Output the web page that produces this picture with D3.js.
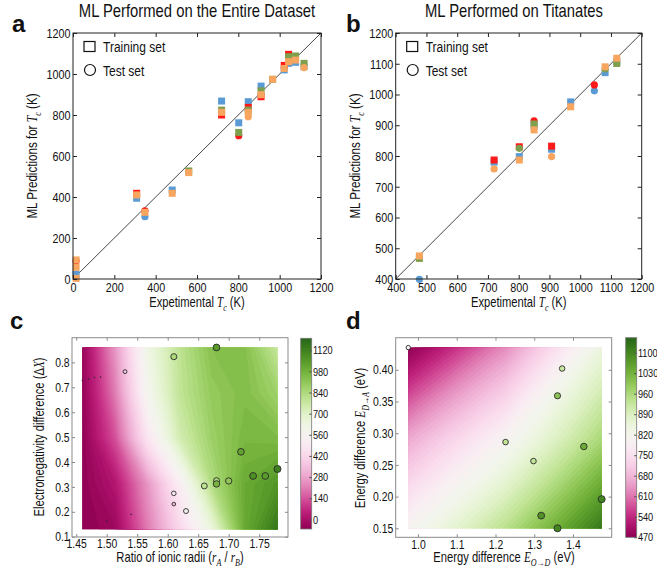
<!DOCTYPE html>
<html>
<head>
<meta charset="utf-8">
<script src="https://cdn.jsdelivr.net/npm/d3@7"></script>
<style>
body { margin: 0; background: #fff; }
text { font-family: "Liberation Sans", Arial, sans-serif; fill: #111; }
.letter { font-weight: bold; font-size: 24px; }
.math { font-family: "Liberation Serif", "DejaVu Serif", serif; font-style: italic; }
</style>
</head>
<body>
<svg id="fig" width="657" height="571"></svg>
<script>
// ---------- panel a : ML on the entire dataset  [Tc exp, Tc predicted, marker]
var aBlue = [[15,23,"s"],[308,394,"s"],[348,304,"c"],[480,434,"s"],[719,868,"s"],[802,762,"s"],[848,865,"s"],
             [910,941,"s"],[1022,1020,"s"],[1043,1052,"s"],[1077,1057,"s"],[1118,1036,"s"]];
var aRed = [[15,88,"c"],[308,418,"s"],[348,333,"c"],[719,800,"s"],[802,699,"c"],[848,837,"s"],[910,889,"s"],
            [1022,1042,"s"],[1043,1096,"s"]];
var aGreen = [[560,527,"s"],[719,824,"s"],[802,715,"s"],[848,824,"s"],[910,918,"s"],[966,974,"s"],
              [1043,1084,"s"],[1077,1088,"s"],[1118,1052,"s"]];
var aOrange = [[15,93,"s"],[15,57,"s"],[15,3,"s"],[308,410,"s"],[348,325,"s"],[480,418,"s"],[560,519,"s"],
               [719,813,"s"],[848,813,"s"],[848,792,"c"],[910,899,"s"],[966,974,"s"],[1022,1027,"s"],
               [1043,1060,"s"],[1077,1068,"s"],[1118,1031,"c"]];
var aTicks = [0,200,400,600,800,1000,1200];

// ---------- panel b : ML on titanates
var bBlue = [[477,399,"c"],[720,780,"s"],[802,798,"s"],[850,898,"s"],[907,822,"s"],[969,976,"s"],
             [1046,1012,"c"],[1081,1071,"s"],[1119,1107,"s"]];
var bRed = [[720,787,"s"],[802,830,"s"],[850,914,"c"],[907,832,"s"],[1046,1031,"c"]];
var bGreen = [[477,467,"s"],[802,825,"c"],[850,904,"s"],[1081,1083,"c"],[1119,1101,"s"]];
var bOrange = [[477,475,"s"],[720,758,"c"],[802,787,"s"],[850,885,"s"],[907,798,"c"],[969,960,"s"],
               [1081,1090,"s"],[1119,1118,"s"]];
var bTicks = [400,500,600,700,800,900,1000,1100,1200];

// ---------- panel c : Tc map over (rA/rB, dX), grid rows top -> bottom
var cGridX = [1.46, 1.78];
var cGridY = [0.86, 0.13];
var cGrid = [
  [-40, 250, 620, 800, 930, 930, 780],
  [-50, 200, 580, 790, 900, 940, 870],
  [-60, 130, 470, 740, 880, 960, 950],
  [-60,  20, 250, 520, 830, 1000, 1060],
  [-64, -30, 200, 420, 650, 1000, 1150]
];
// [rA/rB, dX, Tc]
var cPoints = [[1.68,0.86,1043],[1.61,0.823,848],[1.53,0.763,348],
  [1.46,0.727,15],[1.47,0.733,15],[1.48,0.74,15],[1.49,0.741,15],
  [1.72,0.441,1022],[1.78,0.372,1118],[1.74,0.344,1077],[1.76,0.344,1043],
  [1.70,0.324,910],[1.68,0.325,848],[1.68,0.312,966],[1.66,0.304,802],
  [1.61,0.274,480],[1.61,0.231,308],[1.63,0.203,560],[1.54,0.19,15],[1.50,0.163,15]];
var cXTicks = [1.45,1.50,1.55,1.60,1.65,1.70,1.75];
var cYTicks = [0.1,0.2,0.3,0.4,0.5,0.6,0.7,0.8];
var cBarTicks = [0,140,280,420,560,700,840,980,1120];
var cBarRange = [-64, 1199];

// ---------- panel d : Tc map over (E O->D, E D->A)
var dGridX = [0.975, 1.474];
var dGridY = [0.435, 0.15];
var dGrid = [
  [470, 630, 850],
  [660, 800, 960],
  [805, 940, 1120]
];
var dPoints = [[0.975,0.435,780],[1.372,0.402,920],[1.36,0.359,1000],[1.226,0.286,930],[1.298,0.256,930],
  [1.428,0.279,1040],[1.474,0.196,1100],[1.318,0.170,1080],[1.36,0.15,1100]];
var dXTicks = [1.0,1.1,1.2,1.3,1.4];
var dYTicks = [0.15,0.20,0.25,0.30,0.35,0.40];
var dBarTicks = [470,540,610,680,750,820,890,960,1030,1100];
var dBarRange = [470, 1151];

var colBlue = "#5b9bd5", colRed = "#ff1a1a", colGreen = "#7d9f4e", colOrange = "#f7a55f";
var NARROW = "scale(0.8,1)";   // stands in for Arial Narrow

var svg = d3.select("#fig");

// text with italic / subscript pieces: [text, italic, sub]
function rich(sel, parts, fs) {
  sel.style("font-size", fs + "px");
  var shift = 0;
  parts.forEach(function (p) {
    var t = sel.append("tspan").text(p[0]);
    if (p[1]) t.attr("class", "math");
    var want = p[2] ? fs * 0.3 : 0;
    if (want !== shift) { t.attr("dy", want - shift); shift = want; }
    if (p[2]) t.style("font-size", (fs * 0.72) + "px");
  });
  return sel;
}

function label(x, y, rot, anchor, fs, parts) {
  var g = svg.append("g").attr("transform", "translate(" + x + "," + y + ")" + (rot ? " rotate(-90)" : ""));
  return rich(g.append("text").attr("text-anchor", anchor).attr("transform", NARROW), parts, fs);
}

function styleAxis(a, col, fs) {
  a.select(".domain").remove();
  a.selectAll("line").attr("stroke", col);
  a.selectAll("text").style("font-size", fs + "px").attr("fill", "#111").attr("transform", NARROW);
}

function frameAxes(x, y, xt, yt, fx, fy, col, tl, fs, pad) {
  var g = svg.append("g");
  var x0 = x.range()[0], x1 = x.range()[1], y0 = y.range()[0], y1 = y.range()[1];
  g.append("rect").attr("x", x0).attr("y", y1).attr("width", x1 - x0).attr("height", y0 - y1)
    .attr("fill", "none").attr("stroke", col).attr("stroke-width", 1);
  [
    g.append("g").attr("transform", "translate(0," + y0 + ")")
      .call(d3.axisBottom(x).tickValues(xt).tickFormat(fx).tickSizeInner(-tl).tickSizeOuter(0).tickPadding(pad)),
    g.append("g").attr("transform", "translate(" + x0 + ",0)")
      .call(d3.axisLeft(y).tickValues(yt).tickFormat(fy).tickSizeInner(-tl).tickSizeOuter(0).tickPadding(3)),
    g.append("g").attr("transform", "translate(0," + y1 + ")")
      .call(d3.axisTop(x).tickValues(xt).tickFormat("").tickSizeInner(-tl).tickSizeOuter(0)),
    g.append("g").attr("transform", "translate(" + x1 + ",0)")
      .call(d3.axisRight(y).tickValues(yt).tickFormat("").tickSizeInner(-tl).tickSizeOuter(0))
  ].forEach(function (a) { styleAxis(a, col, fs); });
  return g;
}

function scatterPanel(series, x, y, ticks) {
  var g = svg.append("g");
  var d0 = x.domain()[0], d1 = x.domain()[1];
  g.append("line").attr("x1", x(d0)).attr("y1", y(d0)).attr("x2", x(d1)).attr("y2", y(d1))
    .attr("stroke", "#333").attr("stroke-width", 0.9);
  series.forEach(function (s) {
    s.data.forEach(function (d) {
      if (d[2] === "s") {
        g.append("rect").attr("x", x(d[0]) - 3.5).attr("y", y(d[1]) - 3.5)
          .attr("width", 7).attr("height", 7).attr("fill", s.col);
      } else {
        g.append("circle").attr("cx", x(d[0])).attr("cy", y(d[1])).attr("r", 3.6).attr("fill", s.col);
      }
    });
  });
  frameAxes(x, y, ticks, ticks, d3.format("d"), d3.format("d"), "#222", 4, 13.5, 3);
  // legend
  var lx = x.range()[0];
  g.append("rect").attr("x", lx + 11).attr("y", 41.5).attr("width", 11).attr("height", 10)
    .attr("fill", "none").attr("stroke", "#111").attr("stroke-width", 1.2);
  label(lx + 30, 52, false, "start", 15, [["Training set"]]);
  g.append("circle").attr("cx", lx + 17).attr("cy", 70).attr("r", 5.5)
    .attr("fill", "none").attr("stroke", "#111").attr("stroke-width", 1.2);
  label(lx + 30, 76, false, "start", 15, [["Test set"]]);
  // axis titles
  var cx = (x.range()[0] + x.range()[1]) / 2, cy = (y.range()[0] + y.range()[1]) / 2;
  label(cx, 307, false, "middle", 14, [["Expetimental "], ["T", true], ["c", true, true], [" (K)"]]);
  label(x.range()[0] - 36, cy, true, "middle", 14.5, [["ML Predictions for "], ["T", true], ["c", true, true], [" (K)"]]);
}

function mapPanel(grid, gx, gy, pts, x, y, xt, yt, fx, fy, bar, barTicks, barX, barY, rad, id) {
  var color = d3.scaleSequential(d3.interpolatePiYG).domain(bar);
  var g = svg.append("g");
  var nx = grid[0].length, ny = grid.length;
  var values = [].concat.apply([], grid);
  var px0 = x(gx[0]), px1 = x(gx[1]), py0 = y(gy[0]), py1 = y(gy[1]);
  var step = (bar[1] - bar[0]) / 70;
  var levels = d3.range(bar[0] - step, bar[1] + step, step);
  var conts = d3.contours().size([nx, ny]).thresholds(levels)(values);
  var proj = d3.geoTransform({
    point: function (u, v) {
      this.stream.point(px0 + (u - 0.5) / (nx - 1) * (px1 - px0), py0 + (v - 0.5) / (ny - 1) * (py1 - py0));
    }
  });
  g.append("clipPath").attr("id", id).append("rect")
    .attr("x", px0).attr("y", py0).attr("width", px1 - px0).attr("height", py1 - py0);
  g.append("g").attr("clip-path", "url(#" + id + ")")
    .selectAll("path").data(conts).join("path")
    .attr("d", d3.geoPath(proj))
    .attr("fill", function (d) { return color(d.value + step / 2); })
    .attr("stroke", function (d) { return color(d.value + step / 2); })
    .attr("stroke-width", 0.6);
  g.selectAll("circle.pt").data(pts).join("circle")
    .attr("cx", function (d) { return x(d[0]); })
    .attr("cy", function (d) { return y(d[1]); })
    .attr("r", function (d) { return rad(d[2]); })
    .attr("fill", function (d) { return color(d[2]); })
    .attr("stroke", "#2a2a2a").attr("stroke-width", 0.9);
  frameAxes(x, y, xt, yt, fx, fy, "#8a8a8a", 3, 13, 2);

  // colour bar
  var by = d3.scaleLinear().domain(bar).range(barY);
  var gid = id + "g";
  var grad = svg.append("defs").append("linearGradient").attr("id", gid)
    .attr("x1", 0).attr("y1", 1).attr("x2", 0).attr("y2", 0);
  d3.range(0, 1.0001, 0.05).forEach(function (t) {
    grad.append("stop").attr("offset", t).attr("stop-color", d3.interpolatePiYG(t));
  });
  var bw = 11;
  svg.append("rect").attr("x", barX).attr("y", barY[1]).attr("width", bw)
    .attr("height", barY[0] - barY[1]).attr("fill", "url(#" + gid + ")")
    .attr("stroke", "#777").attr("stroke-width", 0.8);
  var ba = svg.append("g").attr("transform", "translate(" + (barX + bw) + ",0)")
    .call(d3.axisRight(by).tickValues(barTicks).tickFormat(d3.format("d")).tickSizeInner(-2.5).tickSizeOuter(0).tickPadding(1.5));
  styleAxis(ba, "#555", 11.5);
}

// ---- a
var xa = d3.scaleLinear().domain([0, 1200]).range([73, 321]);
var ya = d3.scaleLinear().domain([0, 1200]).range([279, 33]);
scatterPanel([{data: aBlue, col: colBlue}, {data: aRed, col: colRed}, {data: aGreen, col: colGreen},
  {data: aOrange, col: colOrange}], xa, ya, aTicks);

// ---- b
var xb = d3.scaleLinear().domain([400, 1200]).range([395.7, 641.7]);
var yb = d3.scaleLinear().domain([400, 1200]).range([279, 33]);
scatterPanel([{data: bBlue, col: colBlue}, {data: bRed, col: colRed}, {data: bGreen, col: colGreen},
  {data: bOrange, col: colOrange}], xb, yb, bTicks);

// ---- c
var xc = d3.scaleLinear().domain([1.4431, 1.7972]).range([72, 288]);
var yc = d3.scaleLinear().domain([0.0988, 0.8992]).range([537, 337.7]);
mapPanel(cGrid, cGridX, cGridY, cPoints, xc, yc, cXTicks, cYTicks, d3.format(".2f"), d3.format(".1f"),
  cBarRange, cBarTicks, 300.7, [529, 338.3], d3.scaleSqrt().domain([0, 1120]).range([0, 3.5]), "clipc");
label(180, 562, false, "middle", 14,
  [["Ratio of ionic radii ("], ["r", true], ["A", true, true], [" / "], ["r", true], ["B", true, true], [")"]]);
label(44, 437, true, "middle", 14, [["Electronegativity difference ("], ["Δ"], ["X", true], [")"]]);

// ---- d
var xd = d3.scaleLinear().domain([0.9425, 1.4999]).range([395.7, 611.7]);
var yd = d3.scaleLinear().domain([0.1358, 0.4506]).range([537.3, 337.7]);
mapPanel(dGrid, dGridX, dGridY, dPoints, xd, yd, dXTicks, dYTicks, d3.format(".1f"), d3.format(".2f"),
  dBarRange, dBarTicks, 625.7, [537.3, 337.7], d3.scaleLinear().domain([780, 1100]).range([2.2, 3.5]), "clipd");
label(504, 562, false, "middle", 14, [["Energy difference "], ["E", true], ["O→D", true, true], [" (eV)"]]);
label(365, 438, true, "middle", 14, [["Energy difference "], ["E", true], ["D→A", true, true], [" (eV)"]]);

// ---- titles and letters
label(197, 17, false, "middle", 18.5, [["ML Performed on the Entire Dataset"]]);
label(514, 17, false, "middle", 18.5, [["ML Performed on Titanates"]]);
[["a", 12, 32], ["b", 346, 32], ["c", 10, 329], ["d", 346, 329]].forEach(function (l) {
  svg.append("text").attr("class", "letter").attr("x", l[1]).attr("y", l[2]).text(l[0]);
});
</script>
</body>
</html>
